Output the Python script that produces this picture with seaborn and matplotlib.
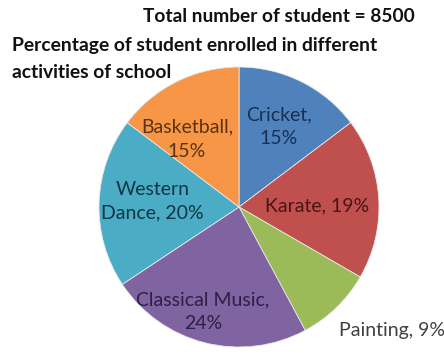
import numpy as np
import matplotlib
matplotlib.use("Agg")
import matplotlib.pyplot as plt
import seaborn as sns

categories = ["Cricket", "Karate", "Painting", "Classical Music", "Western Dance", "Basketball"]
percentages = [15, 19, 9, 24, 20, 15]
label_texts = ["Cricket,\n15%", "Karate, 19%", "Painting, 9%", "Classical Music,\n24%", "Western\nDance, 20%", "Basketball,\n15%"]

colors = ["#4F81BD", "#C0504D", "#9BBB59", "#8064A2", "#4BACC6", "#F79646"]
text_colors = ["#1B2F4F", "#4A1414", "#404040", "#2E1F45", "#0F3743", "#5A3412"]
# label placement: (radius factor, angle offset in degrees)
label_place = [(0.64, 0.0), (0.56, -3.0), (1.40, 7.0), (0.79, -5.0), (0.62, -2.0), (0.61, 11.0)]

sns.set_theme(style="white")
plt.rcParams['font.family'] = ['Lato', 'DejaVu Sans']

fig = plt.figure(figsize=(4.44, 3.56), dpi=100)
W, H = 444, 356
cx, cy, R = 239, 207, 140
ax = fig.add_axes([(cx - R) / W, (H - cy - R) / H, 2 * R / W, 2 * R / H])

wedges, _ = ax.pie(percentages, colors=colors, startangle=90, counterclock=False,
                   radius=1.0, wedgeprops=dict(edgecolor="#e8e8e8", linewidth=0.6))
ax.set_xlim(-1, 1)
ax.set_ylim(-1, 1)
ax.set_aspect("equal", adjustable="box")
ax.axis("off")

for w, txt, tc, (rf, off) in zip(wedges, label_texts, text_colors, label_place):
    ang = np.deg2rad((w.theta1 + w.theta2) / 2 + off)
    ax.text(rf * np.cos(ang), rf * np.sin(ang), txt, ha="center", va="center",
            fontsize=14, color=tc, linespacing=1.5, clip_on=False)

fig.text(415 / W, 1 - 17 / H, "Total number of student = 8500", ha="right", va="center",
         fontsize=13.8, fontweight="bold", color="#111111")
fig.text(12 / W, 1 - 45 / H, "Percentage of student enrolled in different", ha="left", va="center",
         fontsize=13.9, fontweight="bold", color="#111111")
fig.text(12 / W, 1 - 73 / H, "activities of school", ha="left", va="center",
         fontsize=13.9, fontweight="bold", color="#111111")

fig.savefig("out.png", dpi=100)
